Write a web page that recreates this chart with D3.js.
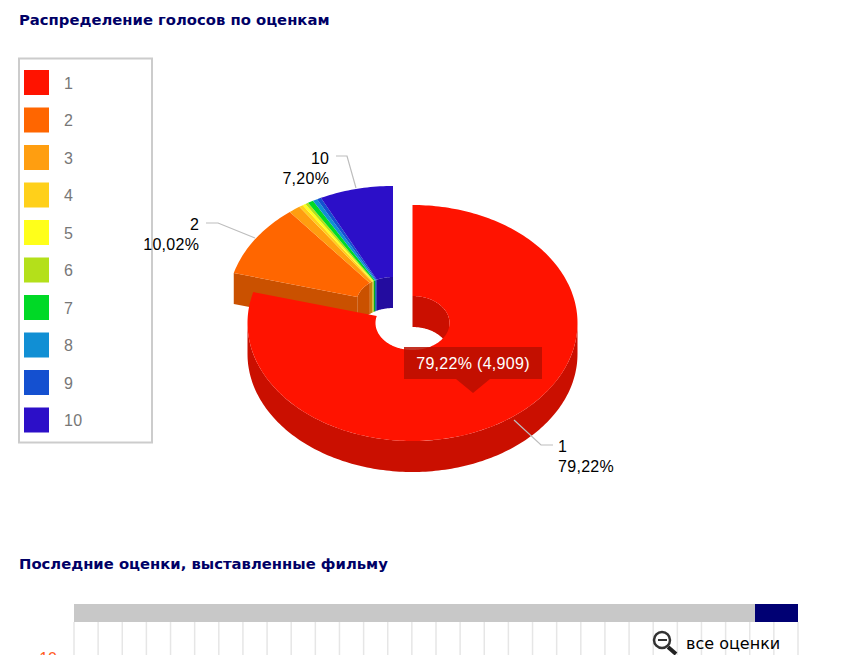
<!DOCTYPE html>
<html><head><meta charset="utf-8">
<style>html,body{margin:0;padding:0;background:#fff;overflow:hidden}svg{display:block}text{font-family:"Liberation Sans",Arial,sans-serif}</style>
<script src="https://cdn.jsdelivr.net/npm/d3@7"></script></head><body><svg id="c" width="865" height="655"></svg>
<script>
const categories=["1","2","3","4","5","6","7","8","9","10"];
const shares=[79.22,10.02,1.15,0.40,0.30,0.30,0.55,0.45,0.41,7.20];
const colors=["#ff1300","#ff6600","#ff9e10","#ffd01a","#ffff1a","#b4e01a","#00d926","#118fd4","#1450d0","#2c0fc8"];
const shareLabels=["79,22%","10,02%","7,20%"];
const tooltipText="79,22% (4,909)";
const title1="Распределение голосов по оценкам",title2="Последние оценки, выставленные фильму",zoomText="все оценки";
const gridCount=30;

const svg=d3.select("#c");
const rx=165,ry=118,irx=37,iry=27,depth=31;
const mainC=[412.5,323],restC=[393,304];
const arcs=d3.pie().value(d=>d).sort(null)(shares);
const pt=(c,a,r1,r2,dy=0)=>[c[0]+r1*Math.sin(a),c[1]-r2*Math.cos(a)+dy];
function arcPts(c,a0,a1,r1,r2,dy=0){const n=Math.max(2,Math.ceil((a1-a0)/0.02));return d3.range(n+1).map(i=>pt(c,a0+(a1-a0)*i/n,r1,r2,dy));}
const line=d3.line();
const topFace=(c,s)=>line(arcPts(c,s.startAngle,s.endAngle,rx,ry).concat(arcPts(c,s.startAngle,s.endAngle,irx,iry).reverse()))+"Z";
const band=(c,a0,a1,r1,r2)=>line(arcPts(c,a0,a1,r1,r2).concat(arcPts(c,a0,a1,r1,r2,depth).reverse()))+"Z";
const dark=col=>d3.rgb(col).darker(0.65).formatHex();

// legend
svg.append("rect").attr("x",19).attr("y",58.5).attr("width",133).attr("height",384).attr("fill","#fff").attr("stroke","#ccc").attr("stroke-width",2);
const ly=d3.scaleLinear().domain([0,9]).range([70,407.5]);
categories.forEach((c,i)=>{
  svg.append("rect").attr("x",24).attr("y",ly(i)).attr("width",25).attr("height",25).attr("fill",colors[i]);
  svg.append("text").attr("x",64).attr("y",ly(i)+18.6).attr("font-size",16).attr("letter-spacing",0.3).attr("fill","#777").text(c);
});

// pulled back slices
const g=svg.append("g");
arcs.slice(1).forEach(s=>{
  g.append("path").attr("d",band(restC,s.startAngle,s.endAngle,irx,iry)).attr("fill",dark(colors[s.index]));
});
const s2=arcs[1];
g.append("path").attr("d",line([pt(restC,s2.startAngle,rx,ry),pt(restC,s2.startAngle,irx,iry),pt(restC,s2.startAngle,irx,iry,depth),pt(restC,s2.startAngle,rx,ry,depth)])+"Z").attr("fill",dark(colors[1]));
arcs.slice(1).forEach(s=>g.append("path").attr("d",topFace(restC,s)).attr("fill",colors[s.index]));

// main slice
const s1=arcs[0];
g.append("path").attr("d",band(mainC,Math.PI/2,1.5*Math.PI,rx,ry)).attr("fill",dark(colors[0]));
g.append("path").attr("d",band(mainC,0,Math.PI/2,irx,iry)).attr("fill",dark(colors[0]));
g.append("path").attr("d",topFace(mainC,s1)).attr("fill",colors[0]);

// leader lines
const leader=[[[514,420],[541,445],[553,445]],[[255,238],[218,223],[206,223]],[[356,188],[347,156],[336,156]]];
leader.forEach(l=>svg.append("path").attr("d",line(l)).attr("fill","none").attr("stroke","#bdbdbd").attr("stroke-width",1.2));
const lab=(x,y,t,a)=>svg.append("text").attr("x",x).attr("y",y).attr("text-anchor",a).attr("font-size",16).attr("letter-spacing",0.3).attr("fill","#000").text(t);
lab(558,452,categories[0],"start");lab(558,472,shareLabels[0],"start");
lab(199.3,230,categories[1],"end");lab(199.3,250,shareLabels[1],"end");
lab(329.3,164,categories[9],"end");lab(329.3,184,shareLabels[2],"end");

// tooltip
svg.append("path").attr("d","M404,347H542V379H490L473,393L456,379H404Z").attr("fill","#b90f00").attr("fill-opacity",0.85);
svg.append("text").attr("x",473).attr("y",369).attr("text-anchor","middle").attr("font-size",16).attr("letter-spacing",0.3).attr("fill","#fff").text(tooltipText);

// titles
const tt=(y,t)=>svg.append("text").attr("x",19).attr("y",y).attr("font-size",14.8).attr("font-weight","bold").attr("fill","#000066").style("font-family","'DejaVu Sans'").text(t);
tt(25,title1);tt(569,title2);

// bottom chart
const gx=d3.scaleLinear().domain([0,gridCount]).range([74,798]);
d3.range(gridCount+1).forEach(i=>svg.append("line").attr("x1",gx(i)).attr("x2",gx(i)).attr("y1",622).attr("y2",655).attr("stroke","#e6e6e6").attr("stroke-width",1.5));
svg.append("rect").attr("x",gx(0)).attr("y",604).attr("width",gx(gridCount)-gx(0)).attr("height",18).attr("fill","#c8c8c8");
svg.append("rect").attr("x",755).attr("y",604).attr("width",43).attr("height",18).attr("fill","#000073");
svg.append("text").attr("x",57).attr("y",664).attr("text-anchor","end").attr("font-size",16).attr("fill","#ff5a1e").text("10");
// zoom icon
svg.append("circle").attr("cx",662).attr("cy",640).attr("r",8).attr("fill","#fff").attr("stroke","#333").attr("stroke-width",2.5);
svg.append("line").attr("x1",658).attr("x2",667).attr("y1",640).attr("y2",640).attr("stroke","#333").attr("stroke-width",2);
svg.append("line").attr("x1",668).attr("x2",676).attr("y1",647).attr("y2",654).attr("stroke","#222").attr("stroke-width",4);
svg.append("text").attr("x",686).attr("y",649).attr("font-size",16).attr("fill","#000").style("font-family","'DejaVu Sans'").text(zoomText);
</script></body></html>
